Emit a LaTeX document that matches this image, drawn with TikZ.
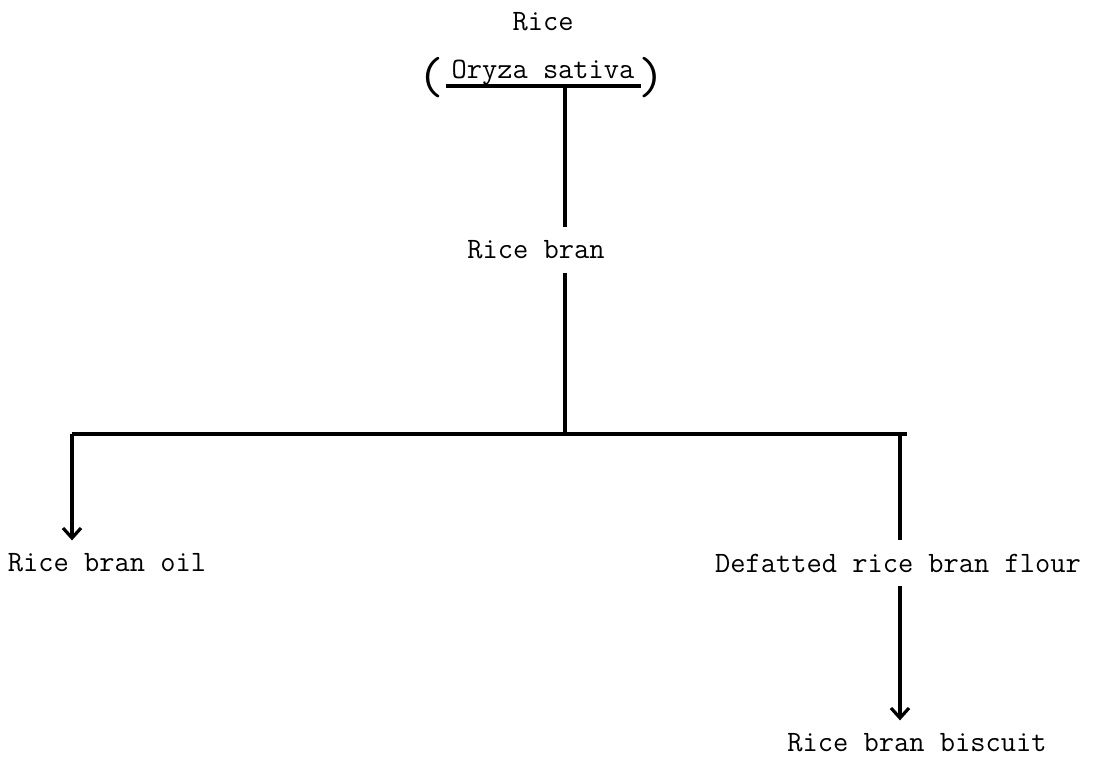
\documentclass[tikz,border=0pt]{standalone}
\usetikzlibrary{arrows.meta}
\begin{document}
\begin{tikzpicture}[x=0.5pt,y=-0.5pt,
  label/.style={font=\ttfamily\fontsize{14.8}{17}\selectfont, inner xsep=2pt, inner ysep=6.5pt},
  paren/.style={font=\ttfamily\fontsize{26}{30}\selectfont, inner sep=0pt},
  conn/.style={line width=1.6pt},
  tip/.style={conn, -{Straight Barb[length=5pt,width=9pt,line width=1.6pt]}}]
  \useasboundingbox (0,0) rectangle (1097,762);

  % nodes
  \node[label] (rice) at (543,22) {Rice};
  \node[label] (oryza) at (543,73) {Oryza sativa};
  \node[paren] (lp) at (431,78) {(};
  \node[paren] (rp) at (652,78) {)};
  \node[label] (bran) at (536,250) {Rice bran};
  \node[label] (oil) at (107,563) {Rice bran oil};
  \node[label] (flour) at (898,563) {Defatted rice bran flour};
  \node[label] (biscuit) at (917,743) {Rice bran biscuit};

  % branching points
  \coordinate (trunk) at (565,86);
  \coordinate (barL) at (72,434);
  \coordinate (barR) at (907,434);
  \coordinate (joint) at (565,434);
  \coordinate (drop) at (900,434);

  % underline of the botanical name
  \draw[conn] (446,86) -- (641,86);

  % connectors
  \draw[conn] (trunk) -- (trunk |- bran.north);
  \draw[conn] (joint |- bran.south) -- (joint);
  \draw[conn] (barL) -- (barR);
  \draw[tip] (barL) -- (barL |- oil.north);
  \draw[conn] (drop) -- (drop |- flour.north);
  \draw[tip] (drop |- flour.south) -- (drop |- biscuit.north);
\end{tikzpicture}
\end{document}
